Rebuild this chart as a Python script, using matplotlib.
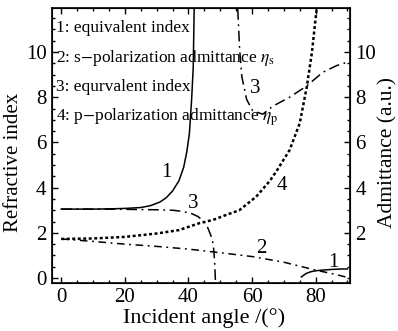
import numpy as np
import matplotlib
matplotlib.use("Agg")
import matplotlib.pyplot as plt
from matplotlib.ticker import MultipleLocator

plt.rcParams['font.family'] = ['Liberation Serif', 'DejaVu Serif']
plt.rcParams['mathtext.fontset'] = 'stix'

# curve 1: equivalent index (solid), two branches
c1a_x = [0, 5, 10, 15, 20, 25, 28, 31, 33, 35, 37, 38.5, 39.5, 40.3, 41, 41.5, 41.8]
c1a_y = [3.05, 3.05, 3.05, 3.06, 3.08, 3.12, 3.2, 3.36, 3.55, 3.85, 4.3, 4.9, 5.6, 6.4, 7.9, 9.3, 11.9]
c1b_x = [75.5, 77, 78.5, 80, 82, 85, 88, 90]
c1b_y = [0.05, 0.2, 0.28, 0.32, 0.35, 0.38, 0.4, 0.4]

# curve 2: s-polarization admittance
c2_x = [0, 10, 20, 30, 40, 50, 60, 70, 80, 85, 90]
c2_y = [1.73, 1.62, 1.5, 1.4, 1.28, 1.12, 0.95, 0.7, 0.35, 0.2, 0.03]

# curve 3: equivalent index (dash-dot), two branches
c3a_x = [0, 10, 20, 30, 35, 38, 41, 43, 44.5, 46, 47, 47.8, 48.1, 48.3, 48.5]
c3a_y = [3.05, 3.05, 3.04, 3.02, 3.0, 2.95, 2.85, 2.72, 2.55, 2.25, 1.9, 1.5, 1.0, 0.5, -0.2]
c3b_x = [55.5, 56.1, 56.8, 58.3, 60.2, 63.4, 66.5, 71.8, 77.2, 82.2, 86.6, 90]
c3b_y = [11.9, 10.1, 8.9, 7.9, 7.4, 7.25, 7.6, 8.0, 8.5, 9.1, 9.4, 9.55]

# curve 4: p-polarization admittance (dotted)
c4_x = [0, 10, 20, 30, 37, 43.5, 47.7, 52, 56, 61.3, 65.6, 68, 71.8, 75, 77.2, 78.8, 80.3]
c4_y = [1.73, 1.75, 1.82, 1.97, 2.12, 2.43, 2.57, 2.8, 3.0, 3.6, 4.3, 4.8, 5.66, 6.85, 8.45, 9.95, 11.9]

legend_lines = [
    "1: equivalent index",
    r"2: s$-$polarization admittance $\eta_{\rm s}$",
    "3: equrvalent index",
    r"4: p$-$polarization admittance $\eta_{\rm p}$",
]

fig = plt.figure(figsize=(3.98, 3.31), dpi=100)
ax = fig.add_axes([0.1307, 0.145, 0.7487, 0.831])

k = 'black'
ax.plot(c1a_x, c1a_y, color=k, lw=1.1)
ax.plot(c1b_x, c1b_y, color=k, lw=1.1)
ax.plot(c2_x, c2_y, color=k, lw=1.1, linestyle=(0, (5, 3, 1.2, 3)))
ax.plot(c3a_x, c3a_y, color=k, lw=1.1, linestyle=(0, (7, 3, 1.2, 3)))
ax.plot(c3b_x, c3b_y, color=k, lw=1.1, linestyle=(0, (7, 3, 1.2, 3)))
ax.plot(c4_x, c4_y, color=k, lw=1.8, linestyle=(0, (1.2, 1.0)))

ax.text(33, 4.65, "1", fontsize=15, ha='center', va='center')
ax.text(85.5, 0.7, "1", fontsize=15, ha='center', va='center')
ax.text(63, 1.3, "2", fontsize=15, ha='center', va='center')
ax.text(41.5, 3.3, "3", fontsize=15, ha='center', va='center')
ax.text(61, 8.4, "3", fontsize=15, ha='center', va='center')
ax.text(69.3, 4.1, "4", fontsize=15, ha='center', va='center')

for i, s in enumerate(legend_lines):
    ax.text(0.015, 0.927 - i * 0.108, s, transform=ax.transAxes, fontsize=12.5,
            ha='left', va='center')

ax.set_xlim(-2.9, 90.8)
ax.set_ylim(-0.22, 11.95)
ax.set_xticks([0, 20, 40, 60, 80])
ax.set_yticks([0, 2, 4, 6, 8, 10])
ax.xaxis.set_minor_locator(MultipleLocator(5))
ax.yaxis.set_minor_locator(MultipleLocator(0.5))
ax.tick_params(which='both', direction='in', top=True, right=False, labelsize=15, width=1)
ax.tick_params(which='major', length=4)
ax.tick_params(which='minor', length=2.5)
ax.tick_params(axis='y', pad=4)
ax.set_xlabel("Incident angle /(°)", fontsize=16)
ax.xaxis.set_label_coords(0.51, -0.127)
ax.xaxis.label.set_va('center')
ax.set_ylabel("Refractive index", fontsize=15)
ax.yaxis.set_label_coords(-0.128, 0.44)
ax.yaxis.label.set_va('center')
for sp in ax.spines.values():
    sp.set_linewidth(1.2)

ax2 = ax.twinx()
ax2.set_ylim(ax.get_ylim())
ax2.set_yticks([2, 4, 6, 8, 10])
ax2.yaxis.set_minor_locator(MultipleLocator(0.5))
ax2.tick_params(which='both', direction='in', labelsize=15, width=1, pad=4)
ax2.tick_params(which='major', length=4)
ax2.tick_params(which='minor', length=2.5)
ax2.set_ylabel("Admittance (a.u.)", fontsize=15.5, rotation=90)
ax2.yaxis.set_label_coords(1.128, 0.473)
ax2.yaxis.label.set_va('center')

fig.savefig("out.png", dpi=100)
